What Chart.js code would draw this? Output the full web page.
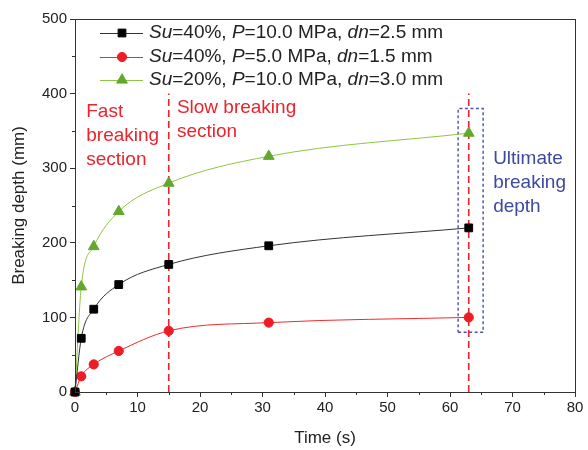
<!DOCTYPE html>
<html>
<head>
<meta charset="utf-8">
<script src="https://cdn.jsdelivr.net/npm/chart.js@4"></script>
<style>
  body { margin: 0; background: #fff; }
  canvas { display: block; }
</style>
</head>
<body>
<canvas id="depthChart" width="588" height="450"></canvas>
<script>
// breaking time (s) and breaking depth (mm) per test case
const times = [0, 1, 3, 7, 15, 31, 63];
const depthSu40P10 = [0, 72, 111, 144, 171, 196, 220];
const depthSu40P5 = [0, 21, 37, 55, 82, 93, 100];
const depthSu20P10 = [0, 141, 195, 242, 280, 316, 347];

// legend text, italic parts marked with *
const seriesLabels = [
    ['*Su', '=40%, ', '*P', '=10.0 MPa, ', '*dn', '=2.5 mm'],
    ['*Su', '=40%, ', '*P', '=5.0 MPa, ', '*dn', '=1.5 mm'],
    ['*Su', '=20%, ', '*P', '=10.0 MPa, ', '*dn', '=3.0 mm']
];

// section boundaries (s) and height of the dashed markers (mm)
const sectionTimes = [15, 63];
const sectionTop = 400;
// box round the ultimate depths
const boxTimes = [61.3, 65.3];
const boxDepths = [80, 380];

const FONT = '"Liberation Sans", Arial, sans-serif';

function toPoints(ys) {
    return times.map((t, i) => ({ x: t, y: ys[i] }));
}

const seriesStyles = [
    { line: '#333333', fill: '#000000', point: 'rect', radius: 5.5 },
    { line: '#ee2a2a', fill: '#ee1c25', point: 'circle', radius: 4.6 },
    { line: '#8ec641', fill: '#62a82c', point: 'triangle', radius: 6.2 }
];

const series = [depthSu40P10, depthSu40P5, depthSu20P10].map((ys, i) => ({
    data: toPoints(ys),
    borderColor: seriesStyles[i].line,
    borderWidth: 1,
    backgroundColor: seriesStyles[i].fill,
    pointBackgroundColor: seriesStyles[i].fill,
    pointBorderColor: seriesStyles[i].fill,
    pointBorderWidth: 1,
    pointStyle: seriesStyles[i].point,
    pointRadius: seriesStyles[i].radius,
    cubicInterpolationMode: 'monotone',
    clip: false,
    order: 1
}));

const sectionLines = sectionTimes.map(t => ({
    data: [{ x: t, y: 0 }, { x: t, y: sectionTop }],
    borderColor: '#e8242c',
    borderWidth: 1.6,
    borderDash: [7, 4],
    pointRadius: 0,
    order: 2
}));

const box = {
    data: [
        { x: boxTimes[0], y: boxDepths[0] },
        { x: boxTimes[1], y: boxDepths[0] },
        { x: boxTimes[1], y: boxDepths[1] },
        { x: boxTimes[0], y: boxDepths[1] },
        { x: boxTimes[0], y: boxDepths[0] }
    ],
    borderColor: '#4a52b0',
    borderWidth: 1.4,
    borderDash: [3, 2.5],
    pointRadius: 0,
    order: 3
};

// text notes placed in data units
const notes = [
    { x: 1.8, y: 375, lines: ['Fast', 'breaking', 'section'], color: '#e8242c' },
    { x: 16.3, y: 381, lines: ['Slow breaking', 'section'], color: '#e8242c' },
    { x: 66.9, y: 312, lines: ['Ultimate', 'breaking', 'depth'], color: '#3d4aa0' }
];

const framePlugin = {
    id: 'frame',
    afterDraw(chart) {
        const ctx = chart.ctx;
        const a = chart.chartArea;
        const xs = chart.scales.x;
        const ys = chart.scales.y;
        ctx.save();
        ctx.strokeStyle = '#333';
        ctx.lineWidth = 1;
        ctx.strokeRect(Math.round(a.left) + 0.5, Math.round(a.top) + 0.5,
            Math.round(a.right - a.left), Math.round(a.bottom - a.top));
        // minor ticks
        ctx.beginPath();
        for (let v = 5; v < 80; v += 10) {
            const px = Math.round(xs.getPixelForValue(v)) + 0.5;
            ctx.moveTo(px, a.bottom);
            ctx.lineTo(px, a.bottom + 3);
        }
        for (let v = 50; v < 500; v += 100) {
            const py = Math.round(ys.getPixelForValue(v)) + 0.5;
            ctx.moveTo(a.left, py);
            ctx.lineTo(a.left - 3, py);
        }
        ctx.stroke();

        // notes
        ctx.font = '19px ' + FONT;
        ctx.textBaseline = 'middle';
        ctx.textAlign = 'left';
        notes.forEach(n => {
            ctx.fillStyle = n.color;
            const x0 = xs.getPixelForValue(n.x);
            const y0 = ys.getPixelForValue(n.y);
            n.lines.forEach((line, i) => ctx.fillText(line, x0, y0 + i * 24));
        });

        // legend
        const rowY = [33, 57, 80];
        seriesLabels.forEach((parts, i) => {
            const st = seriesStyles[i];
            const y = rowY[i];
            ctx.strokeStyle = st.line;
            ctx.lineWidth = 1;
            ctx.beginPath();
            ctx.moveTo(100, y + 0.5);
            ctx.lineTo(143, y + 0.5);
            ctx.stroke();
            ctx.fillStyle = st.fill;
            ctx.strokeStyle = st.fill;
            Chart.helpers.drawPoint(ctx, { pointStyle: st.point, radius: st.radius, rotation: 0, borderWidth: 1 }, 122, y);
            let x = 149;
            ctx.fillStyle = '#222';
            parts.forEach(p => {
                const italic = p.startsWith('*');
                const txt = italic ? p.slice(1) : p;
                ctx.font = (italic ? 'italic ' : '') + '19px ' + FONT;
                ctx.fillText(txt, x, y);
                x += ctx.measureText(txt).width;
            });
        });
        ctx.restore();
    }
};

new Chart(document.getElementById('depthChart'), {
    type: 'line',
    data: { datasets: [...series, ...sectionLines, box] },
    options: {
        responsive: false,
        animation: false,
        layout: { padding: { top: 19, right: 13, left: 0, bottom: 0 } },
        plugins: {
            legend: { display: false },
            tooltip: { enabled: false }
        },
        scales: {
            x: {
                type: 'linear',
                min: 0,
                max: 80,
                ticks: { stepSize: 10, color: '#222', font: { family: FONT, size: 15 }, padding: 2 },
                grid: { drawOnChartArea: false, tickLength: 5, tickColor: '#333' },
                border: { color: '#333', width: 1 },
                title: { display: true, text: 'Time (s)', color: '#222', font: { family: FONT, size: 17 }, padding: { top: 4, bottom: 1 } },
                afterFit(scale) { scale.height = 58; }
            },
            y: {
                min: 0,
                max: 500,
                ticks: { stepSize: 100, color: '#222', font: { family: FONT, size: 15 }, padding: 3 },
                grid: { drawOnChartArea: false, tickLength: 5, tickColor: '#333' },
                border: { color: '#333', width: 1 },
                title: { display: true, text: 'Breaking depth (mm)', color: '#222', font: { family: FONT, size: 17 }, padding: { top: 9, bottom: 4 } },
                afterFit(scale) { scale.width = 75; }
            }
        }
    },
    plugins: [framePlugin]
});
</script>
</body>
</html>
